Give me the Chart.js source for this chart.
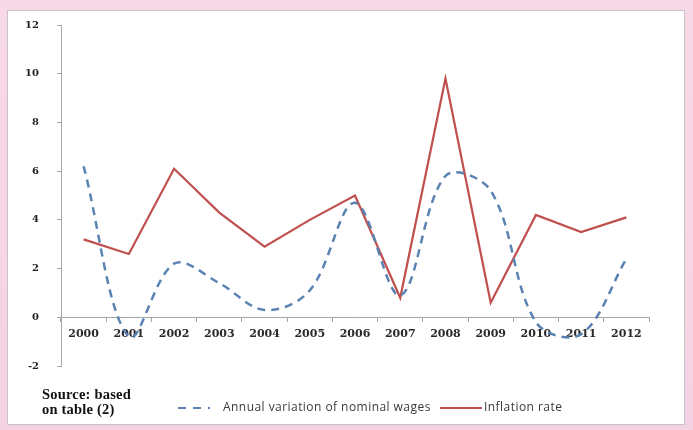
<!DOCTYPE html>
<html>
<head>
<meta charset="utf-8">
<script src="https://cdn.jsdelivr.net/npm/chart.js@4/dist/chart.umd.min.js"></script>
<style>
  html, body { margin: 0; padding: 0; }
  body {
    width: 693px; height: 430px; overflow: hidden; position: relative;
    background: linear-gradient(180deg, #f8d9e8 0%, #f5d2e3 100%);
  }
  #panel {
    position: absolute; left: 7px; top: 10px; width: 678px; height: 415px;
    background: #ffffff; border: 1px solid #c9c3c6; box-sizing: border-box;
  }
  #wrap { position: absolute; left: 0; top: 0; width: 693px; height: 430px; }
  #source {
    position: absolute; left: 42px; top: 387px;
    font: bold 14.5px "Liberation Serif", "Times New Roman", serif;
    line-height: 15px; color: #111; letter-spacing: 0.2px;
  }
</style>
</head>
<body>
<div id="panel"></div>
<div id="wrap"><canvas id="c" width="693" height="430"></canvas></div>
<div id="source">Source: based<br>on table (2)</div>
<script>
// Years on the category axis
const years = ['2000','2001','2002','2003','2004','2005','2006','2007','2008','2009','2010','2011','2012'];
// Annual variation of nominal wages (%)
const nominalWages = [6.2, -0.8, 2.2, 1.4, 0.3, 1.1, 4.7, 0.9, 5.8, 5.2, -0.2, -0.7, 2.4];
// Inflation rate (%)
const inflationRate = [3.2, 2.6, 6.1, 4.3, 2.9, 4.0, 5.0, 0.8, 9.8, 0.6, 4.2, 3.5, 4.1];
// Series names shown in the legend
const seriesNames = ['Annual variation of nominal wages', 'Inflation rate'];

const BLUE = '#5a82b2';
const RED = '#c0504d';
const AXIS = '#a6a6a6';

// Legend drawn below the plot, next to the source note
const legendPlugin = {
  id: 'bottomLegend',
  afterDraw(chart) {
    const ctx = chart.ctx;
    ctx.save();
    const y = 408;
    ctx.lineWidth = 2.2;
    ctx.strokeStyle = BLUE;
    ctx.setLineDash([8, 7]);
    ctx.beginPath(); ctx.moveTo(178, y); ctx.lineTo(210, y); ctx.stroke();
    ctx.setLineDash([]);
    ctx.strokeStyle = RED;
    ctx.lineWidth = 2;
    ctx.beginPath(); ctx.moveTo(440, y); ctx.lineTo(482, y); ctx.stroke();
    ctx.fillStyle = '#3a3a3a';
    ctx.font = '12px "Open Sans", sans-serif';
    ctx.letterSpacing = '0.45px';
    ctx.textBaseline = 'middle';
    ctx.fillText(seriesNames[0], 223, y);
    ctx.fillText(seriesNames[1], 484, y);
    ctx.restore();
  }
};

new Chart(document.getElementById('c'), {
  type: 'line',
  data: {
    labels: years,
    datasets: [
      {
        label: seriesNames[0],
        data: nominalWages,
        borderColor: BLUE,
        borderWidth: 2.5,
        borderDash: [8, 6],
        tension: 0.35,
        pointRadius: 0,
        fill: false
      },
      {
        label: seriesNames[1],
        data: inflationRate,
        borderColor: RED,
        borderWidth: 2.2,
        tension: 0,
        pointRadius: 0,
        fill: false
      }
    ]
  },
  options: {
    responsive: false,
    animation: false,
    layout: { padding: { left: 21, right: 44, top: 25, bottom: 64 } },
    plugins: { legend: { display: false }, tooltip: { enabled: false } },
    scales: {
      x: {
        type: 'category',
        position: { y: 0 },
        offset: true,
        grid: { offset: true, drawOnChartArea: false, drawTicks: true, tickLength: 4, color: AXIS },
        border: { color: AXIS, width: 1 },
        ticks: {
          color: '#2a2a2a',
          padding: 6,
          maxRotation: 0,
          font: { family: '"DejaVu Serif", serif', size: 11, weight: 'bold' }
        }
      },
      y: {
        min: -2,
        max: 12,
        grid: { drawOnChartArea: false, drawTicks: true, tickLength: 4, color: AXIS },
        border: { color: AXIS, width: 1 },
        ticks: {
          stepSize: 2,
          color: '#222',
          padding: 18,
          font: { family: '"DejaVu Serif", serif', size: 10, weight: 'bold' }
        },
        afterFit(scale) { scale.width = 40; }
      }
    }
  },
  plugins: [legendPlugin]
});
</script>
</body>
</html>
